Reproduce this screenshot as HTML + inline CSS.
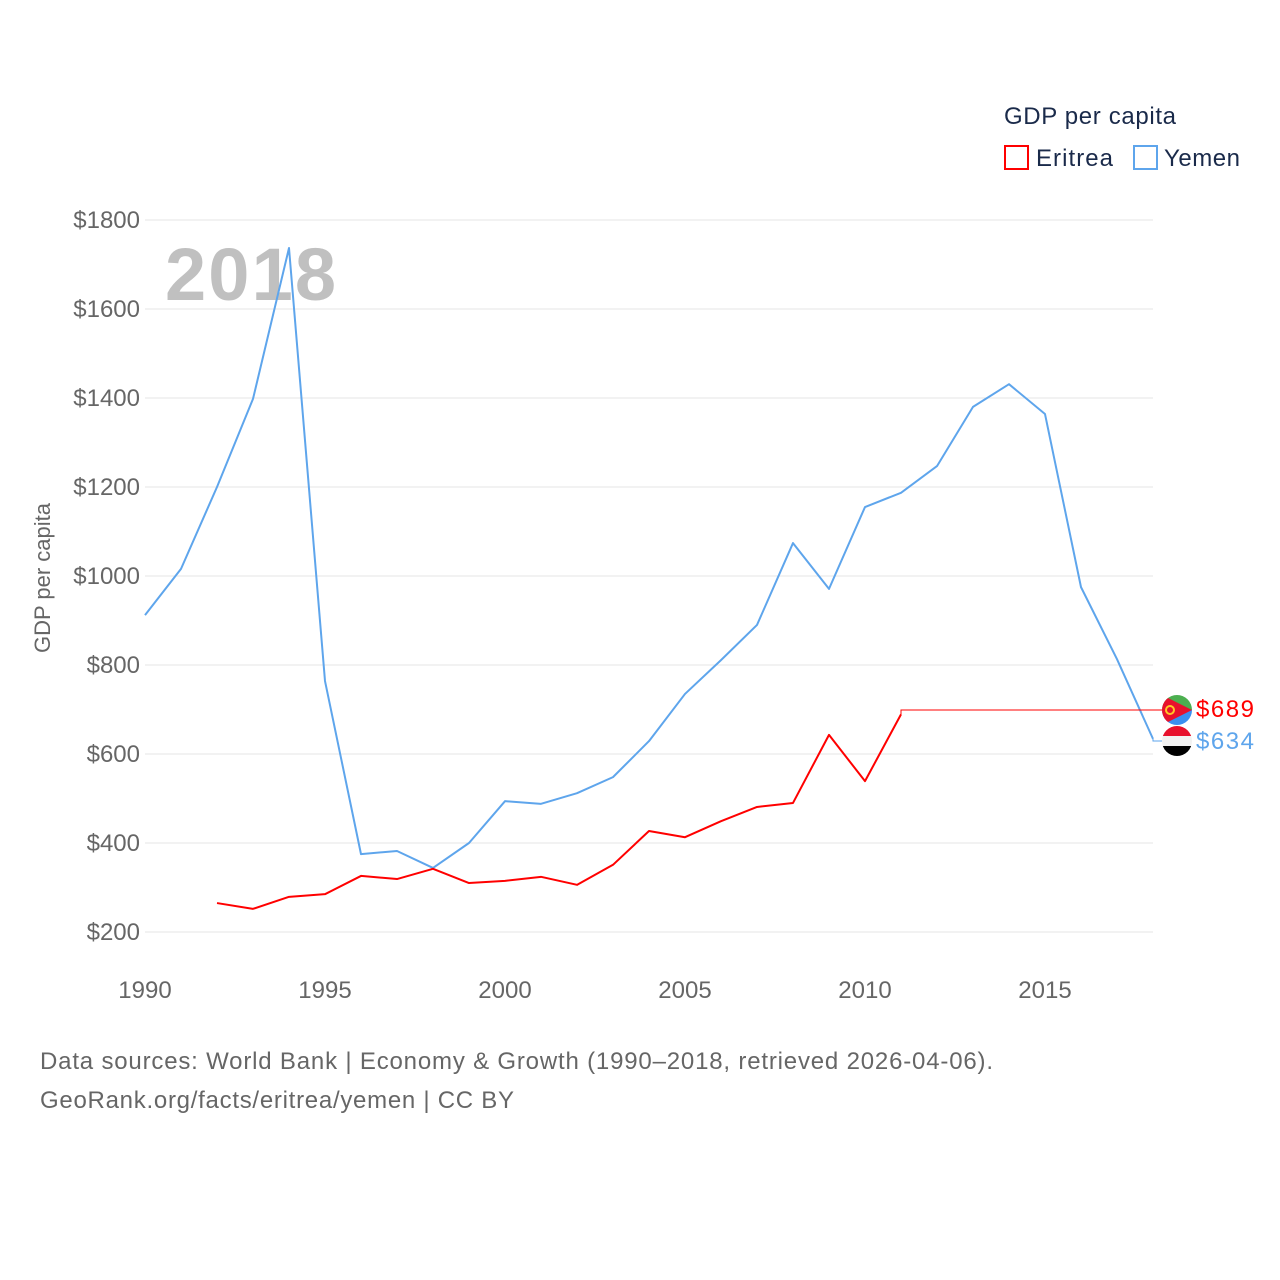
<!DOCTYPE html>
<html><head><meta charset="utf-8"><style>
body{margin:0;background:#fff;font-family:"Liberation Sans",sans-serif;}
svg{display:block}
</style></head><body>
<svg id="c" width="1280" height="1280" xmlns="http://www.w3.org/2000/svg">
<defs>
<clipPath id="fe"><circle cx="1177" cy="710" r="15"/></clipPath>
<clipPath id="fy"><circle cx="1177" cy="741" r="15"/></clipPath>
</defs>
<g id="grid"></g>
<g id="yt"></g>
<g id="xt"></g>
<text x="165" y="300" font-size="74" font-weight="bold" fill="#c0c0c0" textLength="171">2018</text>
<text transform="translate(50,578) rotate(-90)" text-anchor="middle" font-size="22" fill="#666">GDP per capita</text>
<g id="series"></g>
<g>
<text x="1004" y="124" font-size="24" fill="#1a2a4a" textLength="172">GDP per capita</text>
<rect x="1005" y="146" width="23" height="23" fill="none" stroke="#ff0000" stroke-width="2"/>
<text x="1036" y="166" font-size="24" fill="#1a2a4a" textLength="77">Eritrea</text>
<rect x="1134" y="146" width="23" height="23" fill="none" stroke="#5ea5ec" stroke-width="2"/>
<text x="1164" y="166" font-size="24" fill="#1a2a4a" textLength="76">Yemen</text>
</g>
<g clip-path="url(#fe)">
<rect x="1162" y="695" width="30" height="15" fill="#4caf50"/>
<rect x="1162" y="710" width="30" height="15" fill="#3b8ff0"/>
<polygon points="1162,695 1192,710 1162,725" fill="#e8112d"/>
<circle cx="1170" cy="710" r="4" fill="none" stroke="#ffc726" stroke-width="2"/>
</g>
<g clip-path="url(#fy)">
<rect x="1162" y="726" width="30" height="10" fill="#e8112d"/>
<rect x="1162" y="736" width="30" height="10" fill="#f2f2f2"/>
<rect x="1162" y="746" width="30" height="10" fill="#000"/>
</g>
<text x="1196" y="717" font-size="24" fill="#ff0000" textLength="58">$689</text>
<text x="1196" y="749" font-size="24" fill="#5ea5ec" textLength="58">$634</text>
<text x="40" y="1069" font-size="24" fill="#666" textLength="953">Data sources: World Bank | Economy &amp; Growth (1990–2018, retrieved 2026-04-06).</text>
<text x="40" y="1108" font-size="24" fill="#666" textLength="474">GeoRank.org/facts/eritrea/yemen | CC BY</text>
</svg>
<script>
const yTicks=[200,400,600,800,1000,1200,1400,1600,1800];
const xTicks=[1990,1995,2000,2005,2010,2015];
const yemenYears=[1990,1991,1992,1993,1994,1995,1996,1997,1998,1999,2000,2001,2002,2003,2004,2005,2006,2007,2008,2009,2010,2011,2012,2013,2014,2015,2016,2017,2018];
const yemenValues=[912,1016,1200,1398,1737,764,375,382,344,400,494,488,512,548,629,735,811,890,1074,971,1155,1187,1247,1380,1431,1364,975,813,634];
const eritreaYears=[1992,1993,1994,1995,1996,1997,1998,1999,2000,2001,2002,2003,2004,2005,2006,2007,2008,2009,2010,2011];
const eritreaValues=[265,252,279,285,326,319,342,310,315,324,306,351,427,413,449,481,490,643,539,689];
const NS="http://www.w3.org/2000/svg";
const X=y=>145+(y-1990)*36;
const Y=v=>932-(v-200)*0.445;
function mk(t,a,p){const e=document.createElementNS(NS,t);for(const k in a)e.setAttribute(k,a[k]);p.appendChild(e);return e;}
const grid=document.getElementById('grid'),yt=document.getElementById('yt'),xt=document.getElementById('xt'),ser=document.getElementById('series');
yTicks.forEach(v=>{
 const l=mk('line',{x1:145,x2:1153,y1:Y(v),y2:Y(v),stroke:'#e6e6e6','stroke-width':1},grid);
 
 
 const t=mk('text',{x:140,y:Y(v)+8,'text-anchor':'end','font-size':24,fill:'#666'},yt);
 t.textContent='$'+v;
 
 
});
xTicks.forEach(v=>{
 const t=mk('text',{x:X(v),y:998,'text-anchor':'middle','font-size':24,fill:'#666'},xt);
 t.textContent=v;
 
 
});
function line(xs,vs,col,name){
 const p=mk('polyline',{points:xs.map((x,i)=>X(x)+','+Y(vs[i])).join(' '),fill:'none',stroke:col,'stroke-width':2,'stroke-linejoin':'round'},ser);
 
 
}
line(yemenYears,yemenValues,'#5ea5ec','yemen-line');
line(eritreaYears,eritreaValues,'#ff0000','eritrea-line');
const le=eritreaYears.length-1;
const c1=mk('polyline',{points:`${X(eritreaYears[le])},${Y(eritreaValues[le])} ${X(eritreaYears[le])},710 1162,710`,fill:'none',stroke:'#ff0000','stroke-width':1},ser);


const ly=yemenYears.length-1;
const c2=mk('polyline',{points:`${X(yemenYears[ly])},${Y(yemenValues[ly])} ${X(yemenYears[ly])},741 1162,741`,fill:'none',stroke:'#5ea5ec','stroke-width':1},ser);


</script>
</body></html>
